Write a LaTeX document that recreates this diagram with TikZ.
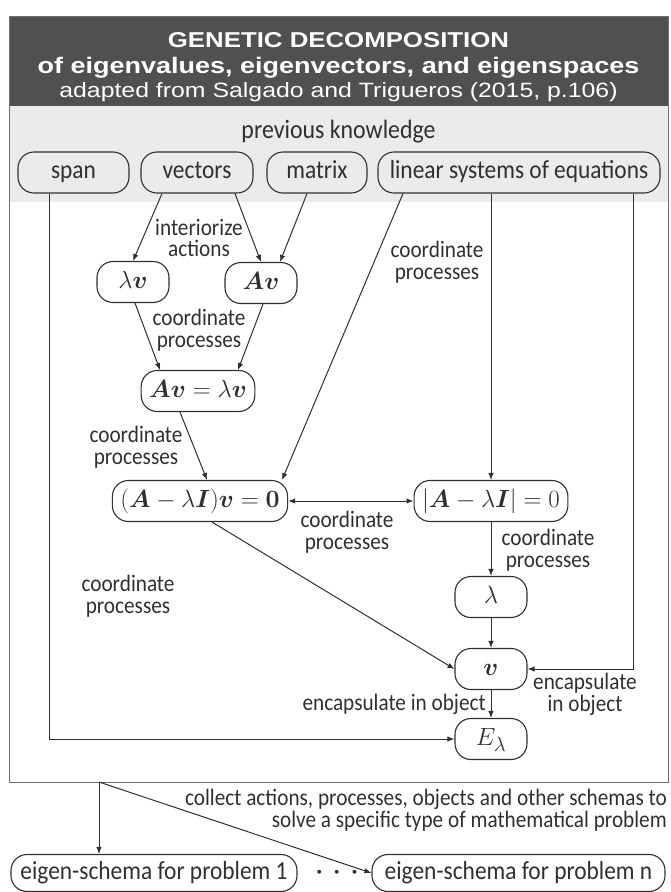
\documentclass[tikz,border=0pt]{standalone}
\usepackage{amsmath}
\usepackage[no-math]{fontspec}
\setmainfont{Carlito}
\newfontfamily\bodyfont[FakeStretch=0.9]{Carlito}
\newfontfamily\hdrfont[FakeStretch=1.2]{Liberation Sans}
\usetikzlibrary{arrows.meta}
\definecolor{hdr}{HTML}{505050}
\definecolor{band}{HTML}{EBEBEB}
\definecolor{ink}{HTML}{303030}
\definecolor{framec}{HTML}{707070}
\begin{document}
\begin{tikzpicture}[x=1pt,y=-1pt,
  pill/.style={draw=ink, line width=1.1pt, rounded corners=16pt, minimum height=41pt,
    inner xsep=6pt, inner ysep=2pt, text=ink, text height=18pt, text depth=6pt,
    font=\bodyfont\fontsize{26}{28}\selectfont},
  mpill/.style={pill, minimum width=72pt, inner xsep=8pt, text height=20pt, text depth=7pt,
    font=\fontsize{28}{30}\selectfont},
  lbl/.style={align=center, text=ink, inner sep=1pt, font=\bodyfont\fontsize{23.6}{21.8}\selectfont},
  arr/.style={draw=ink, line width=1pt, -{Latex[length=7pt,width=5.5pt]}},
  darr/.style={draw=ink, line width=1pt, {Latex[length=7pt,width=5.5pt]}-{Latex[length=7pt,width=5.5pt]}},
  hdrtxt/.style={text=white, anchor=base, inner sep=0pt}]
\useasboundingbox (0,0) rectangle (670,892);
% frame, header, band
\fill[hdr] (9,16) rectangle (668,106);
\fill[band] (9,106) rectangle (668,202);
\draw[framec, line width=1pt] (9,16) rectangle (668,782);
\node[hdrtxt, font=\hdrfont\bfseries\fontsize{21.5}{22}\selectfont] (t1) at (338.5,47) {GENETIC DECOMPOSITION};
\node[hdrtxt, font=\hdrfont\bfseries\fontsize{22.5}{23}\selectfont] (t2) at (338.5,73) {of eigenvalues, eigenvectors, and eigenspaces};
\node[hdrtxt, font=\hdrfont\fontsize{20.7}{21}\selectfont] (t3) at (338.5,97) {adapted from Salgado and Trigueros (2015, p.106)};
\node[text=ink, anchor=base, inner sep=0pt, font=\bodyfont\fontsize{26.5}{28}\selectfont] (pk) at (338.5,138) {previous knowledge};
% top nodes
\node[pill, minimum width=111pt] (span) at (73.5,172.5) {span};
\node[pill, minimum width=112pt] (vectors) at (197,172.5) {vectors};
\node[pill, minimum width=100pt] (matrix) at (317,172.5) {matrix};
\node[pill, minimum width=282pt] (linear) at (519,172.5) {linear systems of equations};
% math nodes
\node[mpill, fill=white] (lv) at (133,282) {$\lambda\boldsymbol{v}$};
\node[mpill, fill=white] (Av) at (261,283) {$\boldsymbol{Av}$};
\node[mpill, fill=white] (eq) at (198,391) {$\boldsymbol{Av}=\lambda\boldsymbol{v}$};
\node[mpill, fill=white] (hom) at (200,501) {$(\boldsymbol{A}-\lambda\boldsymbol{I})\boldsymbol{v}=\boldsymbol{0}$};
\node[mpill, fill=white] (det) at (491,501) {$|\boldsymbol{A}-\lambda\boldsymbol{I}|=0$};
\node[mpill, fill=white] (lam) at (491,597) {$\lambda$};
\node[mpill, fill=white] (vv) at (491,669) {$\boldsymbol{v}$};
\node[mpill, fill=white] (E) at (491,739) {$E_\lambda$};
% labels
\node[lbl] (l1) at (199,238) {interiorize\\actions};
\node[lbl] (l2) at (199,330) {coordinate\\processes};
\node[lbl] (l3) at (437,262) {coordinate\\processes};
\node[lbl] (l4) at (136,447) {coordinate\\processes};
\node[lbl] (l5) at (347,532) {coordinate\\processes};
\node[lbl] (l6) at (548,550) {coordinate\\processes};
\node[lbl] (l7) at (128,596) {coordinate\\processes};
\node[lbl, anchor=east] (l8) at (487,704) {encapsulate in object};
\node[lbl] (l9) at (585,694) {encapsulate\\in object};
% connectors
\draw[arr] ([xshift=-35pt]vectors.south) -- (lv.north);
\draw[arr] ([xshift=38pt]vectors.south) -- (Av.north);
\draw[arr] ([xshift=-10pt]matrix.south) -- ([xshift=19pt]Av.north);
\draw[arr] ([xshift=2pt]lv.south) -- ([xshift=-38pt]eq.north);
\draw[arr] ([xshift=2pt]Av.south) -- ([xshift=40pt]eq.north);
\draw[arr] ([xshift=-18pt]eq.south) -- ([xshift=7pt]hom.north);
\draw[arr] ([xshift=-116pt]linear.south) -- ([xshift=82pt]hom.north);
\draw[arr] (linear.south -| det.north) -- (det.north);
\draw[arr] ([xshift=114pt]linear.south) |- (vv.east);
\draw[darr] (hom.east) -- (det.west);
\draw[arr] ([xshift=12pt]hom.south) -- (vv.west);
\draw[arr] (det.south) -- (lam.north);
\draw[arr] (lam.south) -- (vv.north);
\draw[arr] (vv.south) -- (E.north);
\draw[arr] ([xshift=-24pt]span.south) |- (E.west);
% bottom
\coordinate (fb) at (99,782);
\node[pill, minimum height=37pt, minimum width=286pt] (p1) at (154,873) {eigen-schema for problem 1};
\node[pill, minimum height=37pt, minimum width=293pt] (pn) at (518.5,873) {eigen-schema for problem n};
\node[text=ink, inner sep=0pt, font=\fontsize{28}{28}\selectfont] (dots) at (337,873) {$\boldsymbol{\cdot}\,\boldsymbol{\cdot}\,\boldsymbol{\cdot}$};
\node[lbl, align=right, anchor=east] (col) at (668,810) {collect actions, processes, objects and other schemas to\\solve a specific type of mathematical problem};
\draw[arr] (fb) -- (fb |- p1.north);
\draw[arr] (fb) -- (pn.west);
\end{tikzpicture}
\end{document}
